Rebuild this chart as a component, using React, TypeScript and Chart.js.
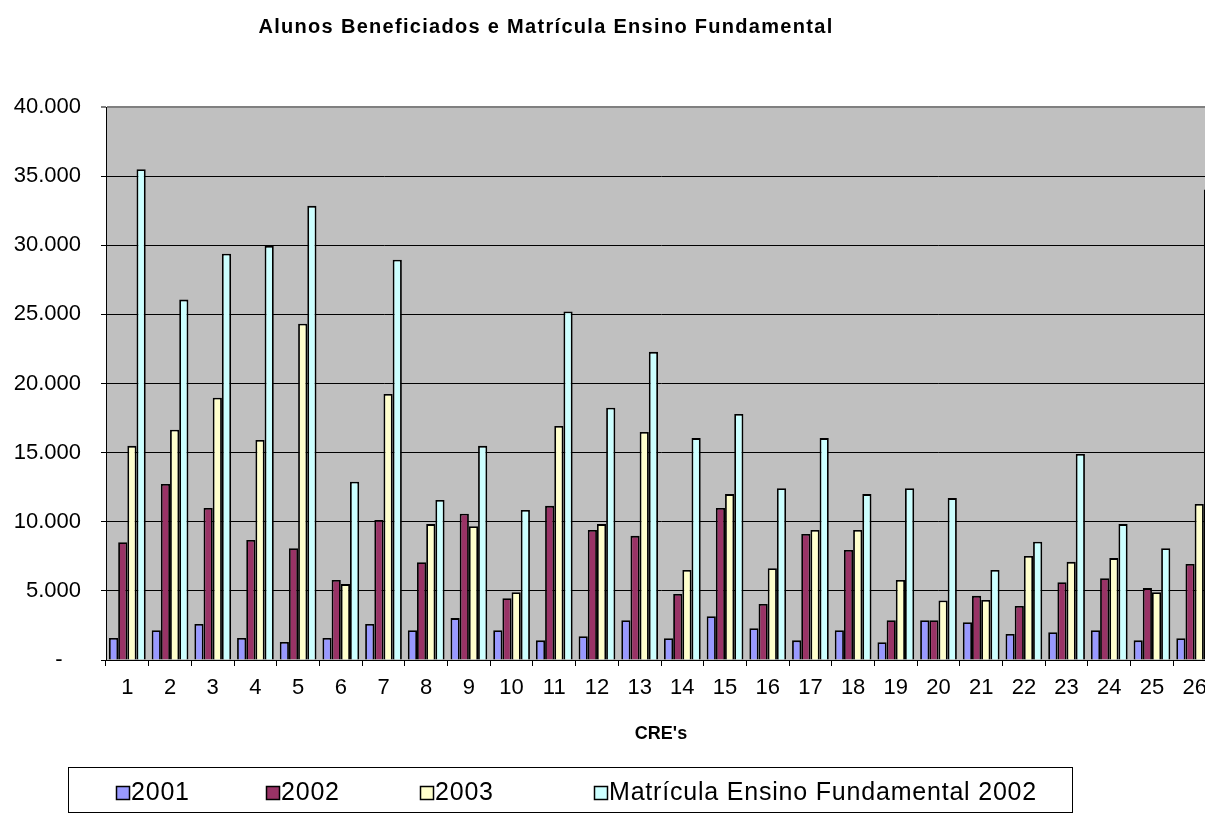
import React, { useEffect, useRef } from "react";
import { Chart, registerables } from "chart.js";

Chart.register(...registerables);

const TITLE = "Alunos Beneficiados e Matrícula Ensino Fundamental";
const X_TITLE = "CRE's";
const categories = ["1","2","3","4","5","6","7","8","9","10","11","12","13","14","15","16","17","18","19","20","21","22","23","24","25","26"];
const seriesNames = ["2001", "2002", "2003", "Matrícula Ensino Fundamental 2002"];
const v2001 = [1600, 2150, 2600, 1600, 1300, 1600, 2600, 2150, 3030, 2150, 1420, 1720, 2870, 1580, 3160, 2300, 1420, 2150, 1290, 2870, 2730, 1880, 2010, 2150, 1420, 1580];
const v2002 = [8520, 12730, 10990, 8680, 8090, 5790, 10130, 7070, 10580, 4470, 11150, 9400, 8980, 4770, 10990, 4050, 9110, 7960, 2870, 2870, 4640, 3910, 5630, 5920, 5200, 6940];
const v2003 = [15490, 16660, 18970, 15910, 24330, 5490, 19240, 9830, 9670, 4900, 16930, 9830, 16500, 6510, 12000, 6640, 9400, 9400, 5790, 4310, 4340, 7530, 7100, 7370, 4900, 11280];
const vMatr = [35500, 26070, 29390, 29950, 32850, 12890, 28960, 11570, 15490, 10850, 25210, 18250, 22290, 16050, 17790, 12430, 16050, 12000, 12430, 11710, 6510, 8550, 14900, 9830, 8090, 34030];
const colors = ["#9999FF", "#993366", "#FFFFCC", "#CCFFFF"];
const yTicks = [0, 5000, 10000, 15000, 20000, 25000, 30000, 35000, 40000];

const FONT = '"Liberation Sans", Arial, sans-serif';

function fmt(v: number): string {
  if (v === 0) return "-   ";
  return String(v).replace(/\B(?=(\d{3})+(?!\d))/g, ".");
}

const legendX = [116, 266, 420, 594];

const customPlugin = {
  id: "custom",
  beforeDraw(chart: any) {
    const { ctx, chartArea } = chart;
    const { left, top, right, bottom } = chartArea;
    ctx.save();
    ctx.fillStyle = "#FFFFFF";
    ctx.fillRect(0, 0, chart.width, chart.height);
    ctx.fillStyle = "#C0C0C0";
    ctx.fillRect(left, top, right - left, bottom - top);
    ctx.restore();
  },
  afterDraw(chart: any) {
    const { ctx } = chart;
    ctx.save();
    // title
    ctx.fillStyle = "#000";
    ctx.font = `bold 20px ${FONT}`;
    ctx.textAlign = "center";
    ctx.textBaseline = "middle";
    (ctx as any).letterSpacing = "1.3px";
    ctx.fillText(TITLE, 546, 27);
    (ctx as any).letterSpacing = "0px";
    // legend box
    ctx.strokeStyle = "#000";
    ctx.lineWidth = 1;
    ctx.strokeRect(68.5, 767.5, 1004, 45);
    ctx.font = `25px ${FONT}`;
    ctx.textAlign = "left";
    (ctx as any).letterSpacing = "0.8px";
    chart.data.datasets.forEach((ds: any, i: number) => {
      const x = legendX[i];
      const cy = 792;
      ctx.fillStyle = ds.backgroundColor;
      ctx.fillRect(x, cy - 6, 13, 13);
      ctx.strokeStyle = "#000";
      ctx.lineWidth = 1.5;
      ctx.strokeRect(x + 0.5, cy - 5.5, 13, 13);
      ctx.fillStyle = "#000";
      ctx.fillText(ds.label, x + 15, cy + 1);
    });
    (ctx as any).letterSpacing = "0px";
    ctx.restore();
  },
};

export default function App() {
  const ref = useRef<HTMLCanvasElement>(null);
  useEffect(() => {
    if (!ref.current) return;
    const values = [v2001, v2002, v2003, vMatr];
    const chart = new Chart(ref.current, {
      type: "bar",
      data: {
        labels: categories,
        datasets: seriesNames.map((name, i) => ({
          label: name,
          data: values[i],
          backgroundColor: colors[i],
          borderColor: "#000000",
          borderWidth: 1.8,
          barPercentage: 1.0,
          categoryPercentage: 0.86,
        })),
      },
      options: {
        responsive: false,
        animation: false,
        devicePixelRatio: 1,
        layout: { padding: { top: 107, bottom: 83, left: 0, right: 0 } },
        plugins: {
          legend: { display: false },
          title: { display: false },
          tooltip: { enabled: false },
        },
        scales: {
          x: {
            afterFit: (s: any) => {
              s.height = 85;
            },
            grid: { drawOnChartArea: false, color: "#000", tickLength: 6, offset: true },
            border: { color: "#000", width: 1 },
            ticks: { font: { family: FONT, size: 22 }, color: "#000", padding: 9, maxRotation: 0, autoSkip: false },
            title: {
              display: true,
              text: X_TITLE,
              font: { family: FONT, size: 18, weight: "bold" },
              color: "#000",
              padding: { top: 0, bottom: 0 },
            },
          },
          y: {
            min: yTicks[0],
            max: yTicks[yTicks.length - 1],
            afterFit: (s: any) => {
              s.width = 106;
            },
            afterBuildTicks: (s: any) => {
              s.ticks = yTicks.map((v) => ({ value: v }));
            },
            ticks: {
              font: { family: FONT, size: 22 },
              color: "#000",
              padding: 20,
              callback: (v: any) => fmt(Number(v)),
            },
            grid: {
              color: (c: any) => (c.tick && c.tick.value === 40000 ? "#808080" : "#000"),
              lineWidth: (c: any) => (c.tick && c.tick.value === 40000 ? 2 : 1),
              tickLength: 5,
            },
            border: { color: "#000", width: 1 },
          },
        },
      },
      plugins: [customPlugin],
    });
    return () => chart.destroy();
  }, []);
  return (
    <div style={{ position: "fixed", left: 0, top: 0, width: 1205, height: 828, overflow: "hidden", background: "#fff" }}>
      <canvas ref={ref} width={1216} height={828} style={{ width: 1216, height: 828, display: "block" }} />
    </div>
  );
}
